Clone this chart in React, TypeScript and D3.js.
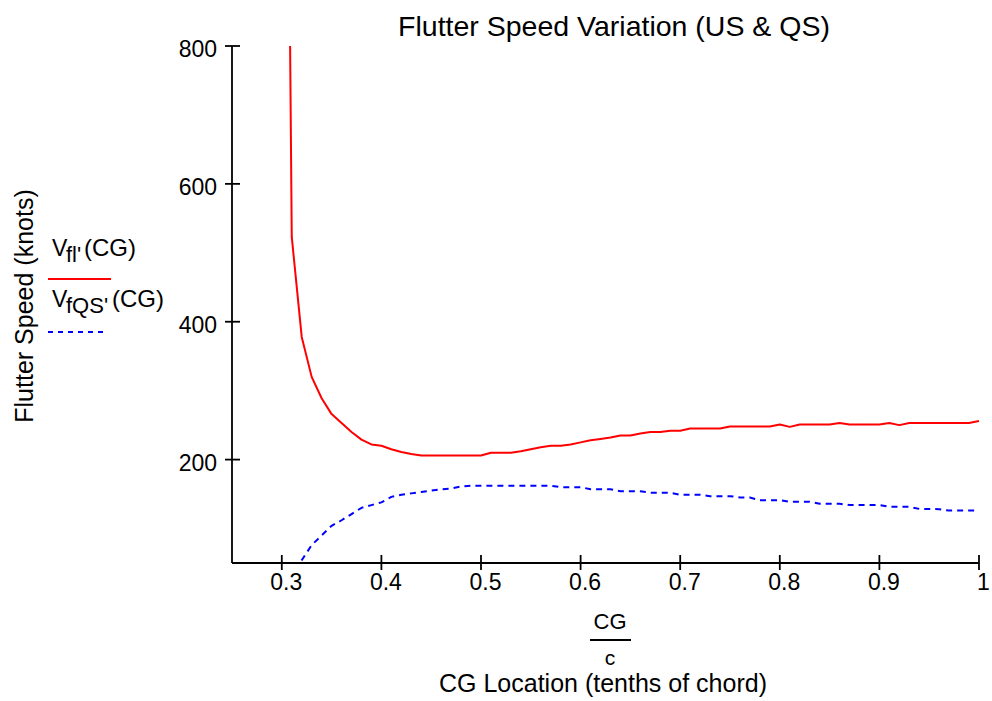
import React from "react";
import * as d3 from "d3";

// CG / c sample locations
const cgValues = [
  0.30, 0.31, 0.32, 0.33, 0.34, 0.35, 0.36, 0.37, 0.38, 0.39,
  0.40, 0.41, 0.42, 0.43, 0.44, 0.45, 0.46, 0.47, 0.48, 0.49,
  0.50, 0.51, 0.52, 0.53, 0.54, 0.55, 0.56, 0.57, 0.58, 0.59,
  0.60, 0.61, 0.62, 0.63, 0.64, 0.65, 0.66, 0.67, 0.68, 0.69,
  0.70, 0.71, 0.72, 0.73, 0.74, 0.75, 0.76, 0.77, 0.78, 0.79,
  0.80, 0.81, 0.82, 0.83, 0.84, 0.85, 0.86, 0.87, 0.88, 0.89,
  0.90, 0.91, 0.92, 0.93, 0.94, 0.95, 0.96, 0.97, 0.98, 0.99,
  1.00,
];

// Unsteady flutter speed V_fl'(CG) (knots)
const vflValues = [
  2200, 523, 378, 320, 289, 266, 253, 240, 229, 222,
  220, 215, 211, 208, 206, 206, 206, 206, 206, 206,
  206, 210, 210, 210, 212, 215, 218, 220, 220, 222,
  225, 228, 230, 232, 235, 235, 238, 240, 240, 242,
  242, 245, 245, 245, 245, 248, 248, 248, 248, 248,
  251, 247.5, 251, 251, 251, 251, 253, 251, 251, 251,
  251, 253, 250, 253, 253, 253, 253, 253, 253, 253,
  256,
];

// Quasi-steady flutter speed V_fQS'(CG) (knots); null = not defined
const vfqsValues: (number | null)[] = [
  null, 25, 54, 76, 90, 104, 112, 121, 130, 134,
  138, 146, 149, 151, 153, 155, 157, 158, 161, 162,
  162, 162, 162, 162, 162, 162, 162, 162, 160, 160,
  160, 157, 157, 157, 154, 154, 154, 152, 152, 152,
  149, 149, 149, 147, 147, 147, 145, 145, 141, 141,
  141, 139, 139, 139, 136, 136, 136, 134, 134, 134,
  134, 131.5, 131.5, 131.5, 128.5, 128.5, 128, 126, 126, 126,
  126,
];

const xTicks = [0.3, 0.4, 0.5, 0.6, 0.7, 0.8, 0.9, 1];
const yTicks = [200, 400, 600, 800];
const xDomain = [0.25, 1.0];
const yDomain = [50, 800];

const title = "Flutter Speed Variation (US & QS)";
const yLabel = "Flutter Speed (knots)";
const xLabel = "CG Location (tenths of chord)";

export default function App() {
  const W = 992;
  const H = 701;
  const left = 232;
  const right = 979;
  const top = 46;
  const bottom = 563;

  const x = d3.scaleLinear().domain(xDomain).range([left, right]);
  const y = d3.scaleLinear().domain(yDomain).range([bottom, top]);

  const redData = cgValues.map((c, i) => ({ c, v: vflValues[i] as number | null }));
  const blueData = cgValues.map((c, i) => ({ c, v: vfqsValues[i] }));

  const line = d3
    .line<{ c: number; v: number | null }>()
    .defined((d) => d.v !== null)
    .x((d) => x(d.c))
    .y((d) => y(d.v as number));

  const font = "Arial, 'Liberation Sans', Helvetica, sans-serif";

  const fmtX = (t: number) => (t === 1 ? "1" : t.toFixed(1));

  return (
    <svg
      width={W}
      height={H}
      style={{ position: "absolute", left: 0, top: 0, background: "#fff" }}
      fontFamily={font}
    >
      <defs>
        <clipPath id="plotClip">
          <rect x={left} y={top} width={right - left} height={bottom - top} />
        </clipPath>
      </defs>
      <rect x={0} y={0} width={W} height={H} fill="#fff" />

      {/* Title */}
      <text x={614} y={36} fontSize={28.5} textAnchor="middle" fill="#000">
        {title}
      </text>

      {/* Data lines */}
      <g clipPath="url(#plotClip)">
        <path d={line(redData) || ""} fill="none" stroke="#ff0000" strokeWidth={2} strokeLinejoin="round" />
        <path
          d={line(blueData) || ""}
          fill="none"
          stroke="#0000ff"
          strokeWidth={2}
          strokeDasharray="6,5"
        />
      </g>

      {/* Axes */}
      <line x1={left} x2={left} y1={top} y2={bottom} stroke="#000" strokeWidth={1.8} />
      <line x1={left} x2={right} y1={bottom} y2={bottom} stroke="#000" strokeWidth={1.8} />

      {yTicks.map((t) => (
        <g key={"y" + t}>
          <line x1={left - 7} x2={left + 8} y1={y(t)} y2={y(t)} stroke="#000" strokeWidth={1.8} />
          <text x={217} y={y(t) + 11.3} fontSize={23} textAnchor="end" fill="#000">
            {t}
          </text>
        </g>
      ))}

      {xTicks.map((t) => (
        <g key={"x" + t}>
          <line x1={x(t)} x2={x(t)} y1={bottom - 8} y2={bottom + 7} stroke="#000" strokeWidth={1.8} />
          <text x={x(t) + 4.5} y={590} fontSize={23} textAnchor="middle" fill="#000">
            {fmtX(t)}
          </text>
        </g>
      ))}

      {/* Y axis label */}
      <text
        transform={`translate(33,306) rotate(-90)`}
        fontSize={25}
        textAnchor="middle"
        fill="#000"
      >
        {yLabel}
      </text>

      {/* X axis label: CG / c fraction */}
      <text x={610} y={629} fontSize={22} textAnchor="middle" fill="#000">
        CG
      </text>
      <line x1={590} x2={631} y1={640} y2={640} stroke="#000" strokeWidth={1.8} />
      <text x={610} y={665} fontSize={21} textAnchor="middle" fill="#000">
        c
      </text>
      <text x={603} y={692} fontSize={25} textAnchor="middle" fill="#000">
        {xLabel}
      </text>

      {/* Legend */}
      <text y={256} fontSize={23} fill="#000">
        <tspan x={52}>V</tspan>
        <tspan x={66} dy={6} fontSize={22}>fl'</tspan>
        <tspan x={84} dy={-6} fontSize={24}>(CG)</tspan>
      </text>
      <line x1={48} x2={111} y1={279} y2={279} stroke="#ff0000" strokeWidth={2} />
      <text y={307} fontSize={23} fill="#000">
        <tspan x={52}>V</tspan>
        <tspan x={66} dy={6} fontSize={22}>fQS'</tspan>
        <tspan x={112} dy={-6} fontSize={24}>(CG)</tspan>
      </text>
      <line x1={48} x2={107} y1={332} y2={332} stroke="#0000ff" strokeWidth={2} strokeDasharray="5,5" />
    </svg>
  );
}
